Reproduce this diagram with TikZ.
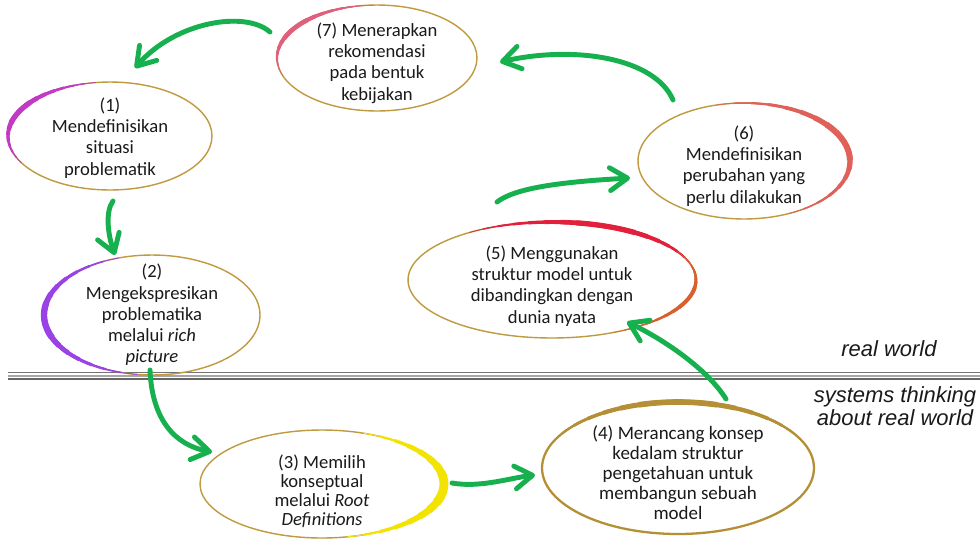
\documentclass[tikz,border=0pt]{standalone}
\usepackage{fontspec}
\setmainfont{Carlito}
\newfontfamily\labfont{Liberation Sans}
\usetikzlibrary{arrows.meta,shapes.geometric}
\definecolor{gold}{HTML}{BF9A3F}
\definecolor{arrgreen}{HTML}{16B04E}
\definecolor{txt}{HTML}{1A1A1A}
\definecolor{pinkred}{HTML}{E0607C}
\definecolor{magen}{HTML}{C23AC4}
\definecolor{purp}{HTML}{9A42E6}
\definecolor{yell}{HTML}{F2E300}
\definecolor{goldd}{HTML}{B58F36}
\definecolor{redd}{HTML}{E2203C}
\definecolor{orred}{HTML}{D8602E}
\definecolor{salmon}{HTML}{E0605A}
\newcommand\hlarc[8]{%
  \foreach \k in {0,...,7}{%
    \pgfmathsetmacro\hd{(#6-#5)/18}%
    \pgfmathsetmacro\sa{#5+\k*\hd}%
    \pgfmathsetmacro\sb{#6-\k*\hd}%
    \pgfmathsetmacro\lw{(\k+1)/8*#8}%
    \draw[draw=#7,line width=\lw pt] (#1,#2) ++(\sa:#3 and #4) arc[start angle=\sa,end angle=\sb,x radius=#3,y radius=#4];
  }}
\tikzset{
  ell/.style={shape=ellipse,draw=gold,line width=0.8pt,inner sep=0pt},
  lbl/.style={align=center,text=txt,font=\fontsize{10.6}{12.1}\selectfont,inner sep=0pt},
  lbl3/.style={align=center,text=txt,font=\fontsize{10.6}{10.8}\selectfont,inner sep=0pt},
  lbl4/.style={align=center,text=txt,font=\fontsize{10.8}{11.4}\selectfont,inner sep=0pt},
  side/.style={align=center,text=txt,font=\labfont\itshape\fontsize{12.5}{14.5}\selectfont,inner sep=0pt},
  flow/.style={draw=arrgreen,line width=2.8pt,line cap=round,
    -{Straight Barb[length=10pt,width=13pt,line width=2.8pt,round]}},
  sepline/.style={line width=0.9pt}
}
\begin{document}
\begin{tikzpicture}[x=0.02cm,y=-0.02cm]
\useasboundingbox (0,0) rectangle (980,545);
\fill[white] (0,0) rectangle (980,545);
% separator
\draw[sepline,draw=black!55] (8,372.5) -- (980,372.5);
\draw[sepline,draw=black!35,line width=1.2pt] (8,375.8) -- (980,375.8);
\draw[sepline,draw=black!60] (8,379) -- (980,379);
% ellipses
\node[ell,minimum width=4cm,minimum height=2.12cm] (n7) at (377,58) {};
\node[ell,minimum width=4.08cm,minimum height=2.16cm] (n1) at (110,136) {};
\node[ell,minimum width=4.32cm,minimum height=2.4cm] (n2) at (152,315) {};
\node[ell,minimum width=4.88cm,minimum height=2.16cm] (n3) at (322,484) {};
\node[ell,line width=1.3pt,draw=goldd,minimum width=5.44cm,minimum height=2.64cm] (n4) at (678,468) {};
\node[ell,minimum width=5.76cm,minimum height=2.32cm] (n5) at (552,280) {};
\node[ell,minimum width=4.24cm,minimum height=2.32cm] (n6) at (744,161) {};
% coloured arcs
\hlarc{377}{58}{100}{53}{160}{268}{pinkred}{2.6}
\hlarc{110}{136}{102}{54}{150}{262}{magen}{3}
\hlarc{152}{315}{108}{60}{98}{252}{purp}{3.6}
\hlarc{322}{484}{122}{54}{-70}{78}{yell}{5}
\hlarc{678}{468}{136}{66}{195}{345}{goldd}{3.2}
\hlarc{552}{280}{144}{58}{235}{350}{redd}{3}
\hlarc{552}{280}{144}{58}{330}{425}{orred}{2.2}
\hlarc{744}{161}{106}{58}{255}{425}{salmon}{3.4}
% texts
\node[lbl] (t7) at (377,63) {(7) Menerapkan\\rekomendasi\\pada bentuk\\kebijakan};
\node[lbl] (t1) at (110,138) {(1)\\Mendefinisikan\\situasi\\problematik};
\node[lbl] (t2) at (152,315) {(2)\\Mengekspresikan\\problematika\\melalui \textit{rich}\\\textit{picture}};
\node[lbl3] (t3) at (322,491) {(3) Memilih\\konseptual\\melalui \textit{Root}\\\textit{Definitions}};
\node[lbl4] (t4) at (678,473) {(4) Merancang konsep\\kedalam struktur\\pengetahuan untuk\\membangun sebuah\\model};
\node[lbl] (t5) at (552,286) {(5) Menggunakan\\struktur model untuk\\dibandingkan dengan\\dunia nyata};
\node[lbl] (t6) at (744,166) {(6)\\Mendefinisikan\\perubahan yang\\perlu dilakukan};
\node[side] (rw) at (889,349) {real world};
\node[side,font=\labfont\itshape\fontsize{12.5}{13.2}\selectfont] (st) at (895,406) {systems thinking\\about real world};
% arrow endpoints
\coordinate (a1s) at (270,32);  \coordinate (a1e) at (135,68);
\coordinate (a2s) at (113,201); \coordinate (a2e) at (115,255);
\coordinate (a3s) at (150,370); \coordinate (a3e) at (212,452);
\coordinate (a4s) at (452,483); \coordinate (a4e) at (535,475);
\coordinate (a5s) at (726,399); \coordinate (a5e) at (627,322);
\coordinate (a6s) at (497,202); \coordinate (a6e) at (630,178);
\coordinate (a7s) at (673,100); \coordinate (a7e) at (500,62);
% arrows
\draw[flow] (a1s) .. controls (245,10) and (175,22) .. (a1e);
\draw[flow] (a2s) .. controls (105,212) and (108,235) .. (a2e);
\draw[flow] (a3s) .. controls (152,420) and (175,445) .. (a3e);
\draw[flow] (a4s) .. controls (480,488) and (510,478) .. (a4e);
\draw[flow] (a5s) .. controls (708,370) and (665,340) .. (a5e);
\draw[flow] (a6s) .. controls (515,188) and (560,182) .. (a6e);
\draw[flow] (a7s) .. controls (655,58) and (575,45) .. (a7e);
\end{tikzpicture}
\end{document}
